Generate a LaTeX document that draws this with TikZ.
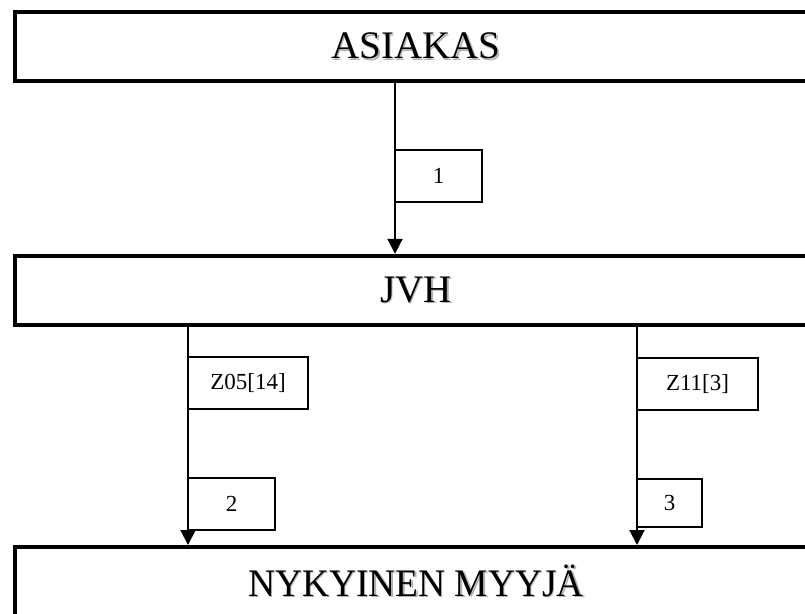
\documentclass[tikz,border=0pt]{standalone}
\usepackage{fontspec}
\setmainfont{Liberation Serif}
\usetikzlibrary{arrows.meta}
% text with a grey copy behind it
\newcommand{\shadowtxt}[1]{\makebox[0pt][l]{\hspace{1.5pt}\raisebox{-1.5pt}{\color{gray!60}#1}}#1}

\begin{document}
\begin{tikzpicture}[x=1pt,y=-1pt]
	% size of each node
	\def\bigw{802pt}
	\def\bigh{69pt}
	\def\flagh{52pt}
	% node style definition
	\tikzstyle{party} = [draw, line width=4pt, rectangle, minimum width=\bigw, minimum height=\bigh, font=\fontsize{39}{44}\selectfont];
	\tikzstyle{flag} = [draw, line width=1.8pt, fill=white, rectangle, anchor=north west, outer sep=0pt, minimum height=\flagh, font=\fontsize{23}{26}\selectfont];
	\tikzstyle{flow} = [-{Triangle[width=15pt,length=15pt]}, line width=2pt];
	\useasboundingbox (0,0) rectangle (805,613);
	\clip (0,0) rectangle (805,613);
	% the three parties
	\node[party] (asiakas) at (416,46.7) { \shadowtxt{ASIAKAS} };
	\node[party] (jvh) at (416,290.3) { \shadowtxt{JVH} };
	\node[party] (nykyinen) at (416,581.5) { \scalebox{0.96}[1]{\shadowtxt{NYKYINEN MYYJÄ}} };
	% message boxes
	\node[flag, minimum width=87pt] (msg1) at (395,150) { 1 };
	\node[flag, minimum width=120pt] (z05) at (188,357) { Z05[14] };
	\node[flag, minimum width=87pt] (msg2) at (188,478) { 2 };
	\node[flag, minimum width=121pt] (z11) at (637,358) { Z11[3] };
	\node[flag, minimum width=65pt, minimum height=48pt] (msg3) at (637,479) { 3 };
	% flows
	\draw[flow] (msg1.west |- asiakas.south) -- (msg1.west |- jvh.north);
	\draw[flow] (z05.west |- jvh.south) -- (msg2.west |- nykyinen.north);
	\draw[flow] (z11.west |- jvh.south) -- (msg3.west |- nykyinen.north);
\end{tikzpicture}
\end{document}
